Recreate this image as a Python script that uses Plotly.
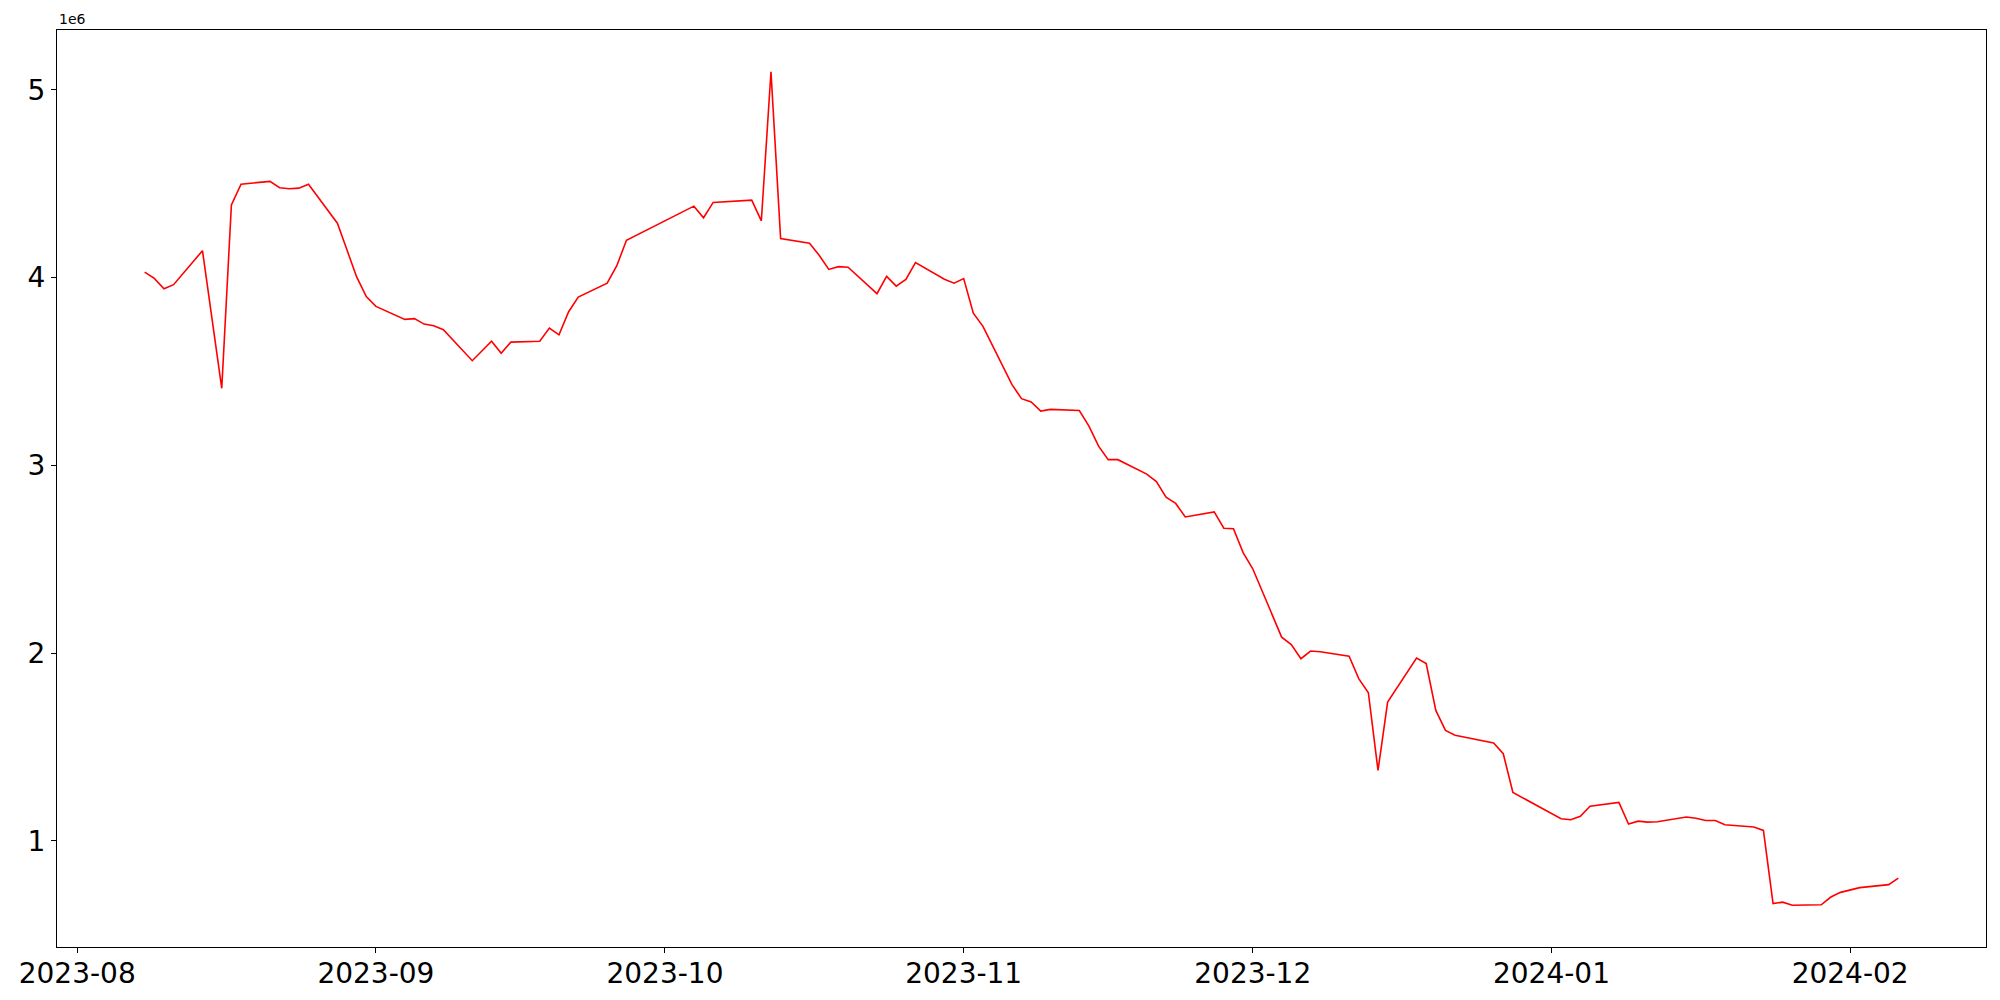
import plotly.graph_objects as go

dates = [
    "2023-08-08", "2023-08-09", "2023-08-10", "2023-08-11", "2023-08-14", "2023-08-16",
    "2023-08-17", "2023-08-18", "2023-08-21", "2023-08-22", "2023-08-23", "2023-08-24",
    "2023-08-25", "2023-08-28", "2023-08-29", "2023-08-30", "2023-08-31", "2023-09-01",
    "2023-09-04", "2023-09-05", "2023-09-06", "2023-09-07", "2023-09-08", "2023-09-11",
    "2023-09-13", "2023-09-14", "2023-09-15", "2023-09-18", "2023-09-19", "2023-09-20",
    "2023-09-21", "2023-09-22", "2023-09-25", "2023-09-26", "2023-09-27", "2023-10-04",
    "2023-10-05", "2023-10-06", "2023-10-10", "2023-10-11", "2023-10-12", "2023-10-13",
    "2023-10-16", "2023-10-17", "2023-10-18", "2023-10-19", "2023-10-20", "2023-10-23",
    "2023-10-24", "2023-10-25", "2023-10-26", "2023-10-27", "2023-10-30", "2023-10-31",
    "2023-11-01", "2023-11-02", "2023-11-03", "2023-11-06", "2023-11-07", "2023-11-08",
    "2023-11-09", "2023-11-10", "2023-11-13", "2023-11-14", "2023-11-15", "2023-11-16",
    "2023-11-17", "2023-11-20", "2023-11-21", "2023-11-22", "2023-11-23", "2023-11-24",
    "2023-11-27", "2023-11-28", "2023-11-29", "2023-11-30", "2023-12-01", "2023-12-04",
    "2023-12-05", "2023-12-06", "2023-12-07", "2023-12-08", "2023-12-11", "2023-12-12",
    "2023-12-13", "2023-12-14", "2023-12-15", "2023-12-18", "2023-12-19", "2023-12-20",
    "2023-12-21", "2023-12-22", "2023-12-26", "2023-12-27", "2023-12-28", "2024-01-02",
    "2024-01-03", "2024-01-04", "2024-01-05", "2024-01-08", "2024-01-09", "2024-01-10",
    "2024-01-11", "2024-01-12", "2024-01-15", "2024-01-16", "2024-01-17", "2024-01-18",
    "2024-01-19", "2024-01-22", "2024-01-23", "2024-01-24", "2024-01-25", "2024-01-26",
    "2024-01-29", "2024-01-30", "2024-01-31", "2024-02-01", "2024-02-02", "2024-02-05",
    "2024-02-06",
]

values = [
    4029000, 3995000, 3940000, 3962000, 4143000, 3410000,
    4386000, 4497000, 4512000, 4478000, 4473000, 4476000,
    4497000, 4289000, 4146000, 4003000, 3899000, 3846000,
    3777000, 3781000, 3752000, 3743000, 3722000, 3557000,
    3661000, 3597000, 3656000, 3661000, 3731000, 3695000,
    3818000, 3896000, 3970000, 4063000, 4198000, 4380000,
    4318000, 4400000, 4412000, 4302000, 5096000, 4207000,
    4182000, 4118000, 4043000, 4058000, 4055000, 3914000,
    4006000, 3954000, 3990000, 4079000, 3991000, 3970000,
    3994000, 3810000, 3740000, 3431000, 3355000, 3337000,
    3289000, 3298000, 3292000, 3209000, 3102000, 3030000,
    3030000, 2953000, 2913000, 2830000, 2797000, 2725000,
    2752000, 2665000, 2662000, 2535000, 2449000, 2085000,
    2045000, 1970000, 2011000, 2007000, 1984000, 1864000,
    1789000, 1375000, 1739000, 1973000, 1944000, 1695000,
    1588000, 1563000, 1521000, 1464000, 1258000, 1118000,
    1113000, 1131000, 1185000, 1205000, 1090000, 1105000,
    1100000, 1102000, 1127000, 1121000, 1109000, 1109000,
    1086000, 1074000, 1056000, 666000, 674000, 657000,
    660000, 701000, 726000, 740000, 751000, 767000,
    802000,
]

x_tick_vals = ["2023-08-01", "2023-09-01", "2023-10-01", "2023-11-01",
               "2023-12-01", "2024-01-01", "2024-02-01"]
x_tick_text = ["2023-08", "2023-09", "2023-10", "2023-11",
               "2023-12", "2024-01", "2024-02"]
y_tick_vals = [1e6, 2e6, 3e6, 4e6, 5e6]
y_tick_text = ["1", "2", "3", "4", "5"]

fig = go.Figure()
fig.add_trace(go.Scatter(
    x=dates, y=values, mode="lines",
    line=dict(color="red", width=1.6),
    showlegend=False,
))

font_family = "DejaVu Sans"

fig.update_layout(
    width=2000, height=1000,
    margin=dict(l=57, r=14, t=30, b=53, autoexpand=False),
    paper_bgcolor="white", plot_bgcolor="white",
    font=dict(family=font_family, color="black"),
    xaxis=dict(
        type="date", automargin=False,
        range=["2023-07-29 21:36", "2024-02-15 02:24"],
        tickvals=x_tick_vals, ticktext=x_tick_text,
        showgrid=False, zeroline=False,
        showline=True, mirror=True, linecolor="black", linewidth=1.2,
        ticks="outside", ticklen=5, tickwidth=1.1, tickcolor="black",
        ticklabelstandoff=-4,
        tickfont=dict(size=28, family=font_family, color="black"),
    ),
    yaxis=dict(
        automargin=False,
        range=[435000, 5318000],
        tickvals=y_tick_vals, ticktext=y_tick_text,
        showgrid=False, zeroline=False,
        showline=True, mirror=True, linecolor="black", linewidth=1.2,
        ticks="outside", ticklen=5, tickwidth=1.1, tickcolor="black",
        tickfont=dict(size=28, family=font_family, color="black"),
    ),
    annotations=[dict(
        text="1e6", xref="paper", yref="paper", x=0, y=1,
        xanchor="left", yanchor="bottom", showarrow=False,
        font=dict(size=14, family=font_family, color="black"),
        xshift=0, yshift=1,
    )],
)

fig.write_html(
    "out.html",
    config={"displayModeBar": False},
    post_script="document.body.style.margin='0';document.body.style.padding='0';"
                "document.body.style.overflow='hidden';",
)
